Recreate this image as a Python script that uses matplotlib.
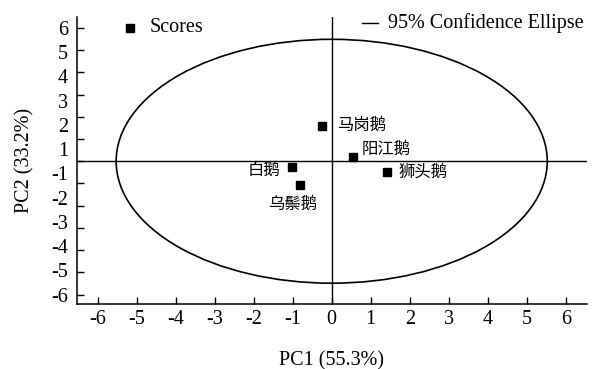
import numpy as np
import matplotlib
matplotlib.use("Agg")
import matplotlib.pyplot as plt
from matplotlib.patches import Ellipse

# PCA scores
breeds = ["马岗鹅", "阳江鹅", "白鹅", "乌鬃鹅", "狮头鹅"]
pc1 = [-0.25, 0.55, -1.02, -0.81, 1.42]
pc2 = [1.60, 0.20, -0.25, -1.06, -0.47]

# 95% confidence ellipse (full width / height in data units)
ell_center = (0.0, 0.0)
ell_width = 11.05
ell_height = 10.97

xticks = [-6, -5, -4, -3, -2, -1, 0, 1, 2, 3, 4, 5, 6]
yticks = [6, 5, 4, 3, 2, 1, 0, -1, -2, -3, -4, -5, -6]
# the original prints 12 labels spread evenly over the 13 tick marks (no "0")
ytick_labels = ["6", "5", "4", "3", "2", "1", "-1", "-2", "-3", "-4", "-5", "-6"]

latin = "Liberation Serif"
cjk = ["Noto Sans CJK SC", "DejaVu Sans"]

plt.rcParams["font.family"] = latin
plt.rcParams["axes.unicode_minus"] = False

fig = plt.figure(figsize=(5.98, 3.69), dpi=100)
ax = fig.add_axes([0.128, 0.175, 0.854, 0.779])

ax.set_xlim(-6.54, 6.55)
ax.set_ylim(-6.44, 6.49)

ax.axhline(0, color="black", lw=1.0, zorder=1)
ax.axvline(0, color="black", lw=1.0, zorder=1)

ell = Ellipse(ell_center, ell_width, ell_height, fill=False, ec="black", lw=1.2, zorder=2)
ax.add_patch(ell)

ax.plot(pc1, pc2, "s", color="black", ms=6, zorder=3)

offsets = {
    "马岗鹅": (11, 0, "left", "center"),
    "阳江鹅": (6, 5, "left", "center"),
    "白鹅": (-8, -3, "right", "center"),
    "乌鬃鹅": (-5, -14, "center", "center"),
    "狮头鹅": (8, 0, "left", "center"),
}
for name, x, y in zip(breeds, pc1, pc2):
    dx, dy, ha, va = offsets[name]
    ax.annotate(name, (x, y), xytext=(dx, dy), textcoords="offset points",
                ha=ha, va=va, fontsize=11.8, family=cjk)

for s in ["top", "right"]:
    ax.spines[s].set_visible(False)
for s in ["left", "bottom"]:
    ax.spines[s].set_linewidth(1.1)

ax.set_xticks(xticks)
ax.set_yticks(yticks)
ax.set_yticklabels([])
ax.yaxis.remove_overlapping_locs = False
ax.set_yticks(np.linspace(yticks[0], yticks[-1], len(ytick_labels)), minor=True)
ax.set_yticklabels(ytick_labels, minor=True)
ax.tick_params(direction="in", length=5, width=1, labelsize=14.5, pad=4)
ax.tick_params(axis="y", which="minor", length=0, labelsize=14.5, pad=6)

ax.set_xlabel("PC1 (55.3%)", fontsize=14.5, labelpad=16)
ax.set_ylabel("PC2 (33.2%)", fontsize=14.5, labelpad=12)

# legend entries drawn by hand
ax.plot([0.104], [0.962], "s", color="black", ms=6, transform=ax.transAxes, clip_on=False)
ax.text(0.144, 0.962, "Scores", transform=ax.transAxes, fontsize=14.5, va="center", ha="left")
ax.plot([0.559, 0.590], [0.979, 0.979], color="black", lw=1, transform=ax.transAxes, clip_on=False)
ax.text(0.610, 0.979, "95% Confidence Ellipse", transform=ax.transAxes, fontsize=14.5,
        va="center", ha="left")

fig.savefig("out.png", dpi=100)
